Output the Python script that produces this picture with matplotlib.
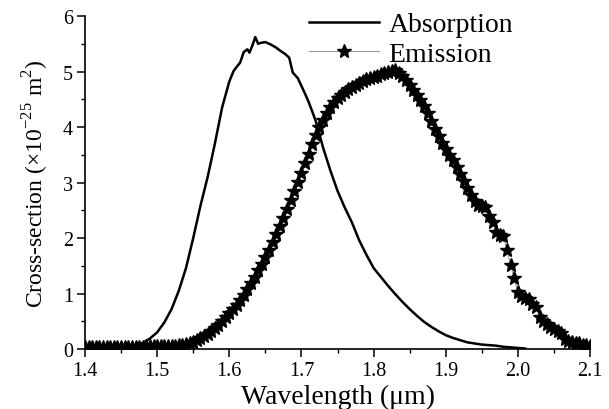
import numpy as np
import matplotlib
matplotlib.use("Agg")
import matplotlib.pyplot as plt
from matplotlib.ticker import MultipleLocator

# absorption cross-section (solid line)
abs_wl = [1.40, 1.44, 1.46, 1.47, 1.48, 1.49, 1.50, 1.51, 1.52, 1.53,
          1.54, 1.55, 1.56, 1.57, 1.58, 1.59, 1.60, 1.606, 1.61, 1.615,
          1.62, 1.625, 1.628, 1.632, 1.636, 1.640, 1.645, 1.650, 1.657, 1.665,
          1.670, 1.677, 1.683, 1.688, 1.695, 1.700, 1.705, 1.710, 1.715, 1.720,
          1.73, 1.74, 1.75, 1.76, 1.77, 1.78, 1.79, 1.80, 1.81, 1.82,
          1.83, 1.84, 1.85, 1.86, 1.87, 1.88, 1.89, 1.90, 1.91, 1.92,
          1.93, 1.94, 1.95, 1.96, 1.97, 1.98, 1.99, 2.00, 2.01]
abs_cs = [0.02, 0.02, 0.03, 0.06, 0.11, 0.19, 0.30, 0.48, 0.72, 1.05,
          1.46, 2.00, 2.58, 3.10, 3.70, 4.35, 4.82, 5.01, 5.08, 5.16,
          5.35, 5.40, 5.34, 5.47, 5.62, 5.50, 5.52, 5.53, 5.49, 5.43,
          5.38, 5.32, 5.25, 4.98, 4.88, 4.74, 4.60, 4.45, 4.28, 4.10,
          3.63, 3.22, 2.85, 2.55, 2.28, 1.96, 1.70, 1.46, 1.30, 1.14,
          0.99, 0.85, 0.72, 0.60, 0.49, 0.40, 0.32, 0.25, 0.20, 0.16,
          0.12, 0.10, 0.08, 0.07, 0.06, 0.04, 0.03, 0.02, 0.01]

# emission cross-section (stars), 0.005 um step from 1.400 to 2.100
em_wl = np.round(np.arange(1.400, 2.1001, 0.005), 3)
em_cs = [0.04, 0.04, 0.04, 0.04, 0.04, 0.04, 0.04, 0.04, 0.04, 0.04,
         0.04, 0.04, 0.04, 0.04, 0.04, 0.04, 0.04, 0.05, 0.05, 0.05,
         0.05, 0.05, 0.05, 0.06, 0.06, 0.06, 0.07, 0.08, 0.09, 0.11,
         0.13, 0.16, 0.19, 0.23, 0.27, 0.32, 0.38, 0.44, 0.50, 0.57,
         0.64, 0.72, 0.80, 0.89, 0.98, 1.08, 1.19, 1.30, 1.42, 1.54,
         1.66, 1.79, 1.93, 2.07, 2.21, 2.36, 2.52, 2.68, 2.84, 3.01,
         3.18, 3.35, 3.52, 3.69, 3.86, 4.00, 4.13, 4.25, 4.36, 4.45,
         4.52, 4.58, 4.63, 4.68, 4.72, 4.76, 4.79, 4.83, 4.86, 4.88,
         4.90, 4.92, 4.95, 4.97, 4.99, 5.01, 5.03, 4.98, 4.92, 4.85,
         4.76, 4.67, 4.58, 4.48, 4.38, 4.25, 4.11, 3.97, 3.84, 3.72,
         3.60, 3.50, 3.40, 3.28, 3.16, 3.03, 2.90, 2.78, 2.66, 2.60,
         2.58, 2.55, 2.40, 2.28, 2.10, 2.05, 2.03, 1.78, 1.52, 1.28,
         1.02, 0.95, 0.92, 0.90, 0.82, 0.75, 0.58, 0.50, 0.45, 0.40,
         0.36, 0.33, 0.28, 0.18, 0.14, 0.12, 0.11, 0.10, 0.08, 0.07,
         0.06]

plt.rcParams["font.family"] = ["Liberation Serif", "DejaVu Serif"]
plt.rcParams["mathtext.fontset"] = "custom"
plt.rcParams["mathtext.rm"] = "Liberation Serif"

fig = plt.figure(figsize=(6.09, 4.10), dpi=100)
ax = fig.add_axes([0.1396, 0.1463, 0.8292, 0.8122])

ax.plot(abs_wl, abs_cs, color="black", lw=1.8, label="Absorption")
ax.plot(em_wl, em_cs, color="#999999", lw=0.8, marker="*", markersize=10,
        markerfacecolor="black", markeredgecolor="black", label="Emission")

ax.set_xlim(1.4, 2.1)
ax.set_ylim(0, 6)
ax.xaxis.set_major_locator(MultipleLocator(0.1))
ax.xaxis.set_minor_locator(MultipleLocator(0.05))
ax.yaxis.set_major_locator(MultipleLocator(1))
ax.yaxis.set_minor_locator(MultipleLocator(0.5))
ax.xaxis.set_major_formatter(plt.FormatStrFormatter("%.1f"))

for side in ["top", "right"]:
    ax.spines[side].set_visible(False)
for side in ["left", "bottom"]:
    ax.spines[side].set_linewidth(1.2)

ax.tick_params(which="major", direction="out", length=5.5, width=1.1,
               labelsize=14.5, pad=3)
ax.tick_params(which="minor", direction="out", length=3, width=1.0)

ax.set_xlabel("Wavelength (\u03bcm)", fontsize=20, labelpad=3)
ax.set_ylabel("Cross-section (\u00d710$^{-25}$ m$^{2}$)", fontsize=17, labelpad=9)

ax.legend(loc="upper left", bbox_to_anchor=(0.503, 0.975),
          bbox_transform=fig.transFigure, frameon=False, fontsize=20,
          handlelength=2.5, handletextpad=0.35, labelspacing=0.15,
          borderpad=0.1, borderaxespad=0)

fig.savefig("out.png", dpi=100)
